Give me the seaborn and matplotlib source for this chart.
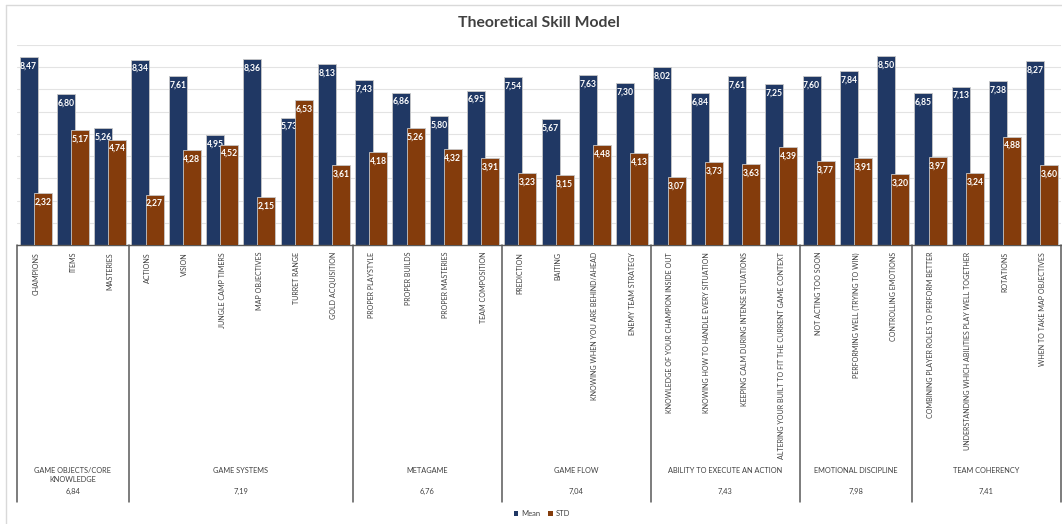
import matplotlib
matplotlib.use("Agg")
import matplotlib.pyplot as plt
from matplotlib.patches import Patch
from matplotlib.lines import Line2D
import seaborn as sns
import pandas as pd
import numpy as np

# ---- data -------------------------------------------------------------
groups = [
    "GAME OBJECTS/CORE\nKNOWLEDGE", "GAME SYSTEMS", "METAGAME", "GAME FLOW",
    "ABILITY TO EXECUTE AN ACTION", "EMOTIONAL DISCIPLINE", "TEAM COHERENCY",
]
group_sizes = [3, 6, 4, 4, 4, 3, 4]
group_means = [6.84, 7.19, 6.76, 7.04, 7.43, 7.98, 7.41]

categories = [
    "CHAMPIONS", "ITEMS", "MASTERIES",
    "ACTIONS", "VISION", "JUNGLE CAMP TIMERS", "MAP OBJECTIVES", "TURRET RANGE",
    "GOLD ACQUISITION",
    "PROPER PLAYSTYLE", "PROPER BUILDS", "PROPER MASTERIES", "TEAM COMPOSITION",
    "PREDICTION", "BAITING", "KNOWING WHEN YOU ARE BEHIND/AHEAD",
    "ENEMY TEAM STRATEGY",
    "KNOWLEDGE OF YOUR CHAMPION INSIDE OUT", "KNOWING HOW TO HANDLE EVERY SITUATION",
    "KEEPING CALM DURING INTENSE SITUATIONS",
    "ALTERING YOUR BUILT TO FIT THE CURRENT GAME CONTEXT",
    "NOT ACTING TOO SOON", "PERFORMING WELL (TRYING TO WIN)", "CONTROLLING EMOTIONS",
    "COMBINING PLAYER ROLES TO PERFORM BETTER",
    "UNDERSTANDING WHICH ABILITIES PLAY WELL TOGETHER", "ROTATIONS",
    "WHEN TO TAKE MAP OBJECTIVES",
]
mean_values = [8.47, 6.80, 5.26, 8.34, 7.61, 4.95, 8.36, 5.73, 8.13,
               7.43, 6.86, 5.80, 6.95, 7.54, 5.67, 7.63, 7.30,
               8.02, 6.84, 7.61, 7.25, 7.60, 7.84, 8.50,
               6.85, 7.13, 7.38, 8.27]
std_values = [2.32, 5.17, 4.74, 2.27, 4.28, 4.52, 2.15, 6.53, 3.61,
              4.18, 5.26, 4.32, 3.91, 3.23, 3.15, 4.48, 4.13,
              3.07, 3.73, 3.63, 4.39, 3.77, 3.91, 3.20,
              3.97, 3.24, 4.88, 3.60]
series = ["Mean", "STD"]
colors = {"Mean": "#203864", "STD": "#843C0C"}

df = pd.DataFrame({
    "skill": categories * 2,
    "series": ["Mean"] * len(categories) + ["STD"] * len(categories),
    "value": mean_values + std_values,
})

# ---- style ------------------------------------------------------------
sns.set_theme(style="white")
plt.rcParams["font.family"] = ["Lato", "DejaVu Sans"]
text_gray = "#404040"
line_gray = "#595959"

W, H = 1062, 524
fig = plt.figure(figsize=(W / 100, H / 100), dpi=100)
ax = fig.add_axes([17 / W, 1 - 245 / H, 1044 / W, 200 / H])

sns.barplot(data=df, x="skill", y="value", hue="series", order=categories,
            hue_order=series, palette=colors, width=0.76, dodge=True,
            saturation=1, legend=False, errorbar=None, ax=ax,
            edgecolor="#C8C8C8", linewidth=0.6)

ax.set_xlim(-0.5, len(categories) - 0.5)
ax.set_ylim(0, 9)
ax.set_yticks(np.arange(1, 10))
ax.set_yticklabels([])
ax.tick_params(axis="y", length=0)
ax.yaxis.grid(True, color="#E3E3E3", linewidth=0.8)
ax.set_axisbelow(True)
for side in ["left", "right", "top"]:
    ax.spines[side].set_visible(False)
ax.spines["bottom"].set_color(line_gray)
ax.spines["bottom"].set_linewidth(1.0)
ax.set_xlabel("")
ax.set_ylabel("")

# slightly overlapping bars, the STD bar in front of the Mean bar
bar_w = 0.48
for k, container in enumerate(ax.containers):
    for bar in container:
        cx = bar.get_x() + bar.get_width() / 2
        bar.set_width(bar_w)
        bar.set_x(cx - bar_w / 2)
        bar.set_zorder(2 + 2 * k)

# value labels inside the top of every bar
for k, (name, vals) in enumerate(zip(series, [mean_values, std_values])):
    for bar, v in zip(ax.containers[k], vals):
        ax.annotate(f"{v:.2f}".replace(".", ","),
                    xy=(bar.get_x() + bar.get_width() / 2, v),
                    xytext=(0, -3.2), textcoords="offset points",
                    ha="center", va="top", color="white", fontsize=6.2,
                    fontweight="bold", zorder=3 + 2 * k)

# category labels, rotated
ax.set_xticks(range(len(categories)))
ax.set_xticklabels(categories, rotation=90, fontsize=5.15, color=text_gray)
ax.tick_params(axis="x", length=0, pad=5)

# group separators, names and averages
trans = ax.get_xaxis_transform()
edges = np.concatenate([[0], np.cumsum(group_sizes)]) - 0.5
for xe in edges:
    ax.add_line(Line2D([xe, xe], [0, -1.285], transform=trans, color=line_gray,
                       linewidth=1.1, clip_on=False))
for g, lo, hi, gm in zip(groups, edges[:-1], edges[1:], group_means):
    xc = (lo + hi) / 2
    ax.text(xc, -1.11, g, transform=trans, ha="center", va="top",
            fontsize=5.3, color=text_gray, linespacing=1.35)
    ax.text(xc, -1.23, f"{gm:.2f}".replace(".", ","), transform=trans,
            ha="center", va="center", fontsize=5.4, color=text_gray)

# chart frame
fig.add_artist(Line2D([6 / W, 6 / W], [0, 1 - 5 / H], color="#D9D9D9",
                      linewidth=1.0))
fig.add_artist(Line2D([6 / W, 1], [1 - 5 / H, 1 - 5 / H], color="#D9D9D9",
                      linewidth=1.0))

fig.text(539 / W, 1 - 23 / H, "Theoretical Skill Model", ha="center",
         va="center", fontsize=11.3, fontweight="bold", color=text_gray)

handles = [Patch(facecolor=colors[s], edgecolor="none", label=s) for s in series]
fig.legend(handles=handles, loc="center", bbox_to_anchor=(542 / W, 1 - 514 / H),
           ncol=2, frameon=False, fontsize=5.5, handlelength=0.6,
           handleheight=0.6, handletextpad=0.4, columnspacing=1.0,
           labelcolor=text_gray)

fig.savefig("out.png", dpi=100)
